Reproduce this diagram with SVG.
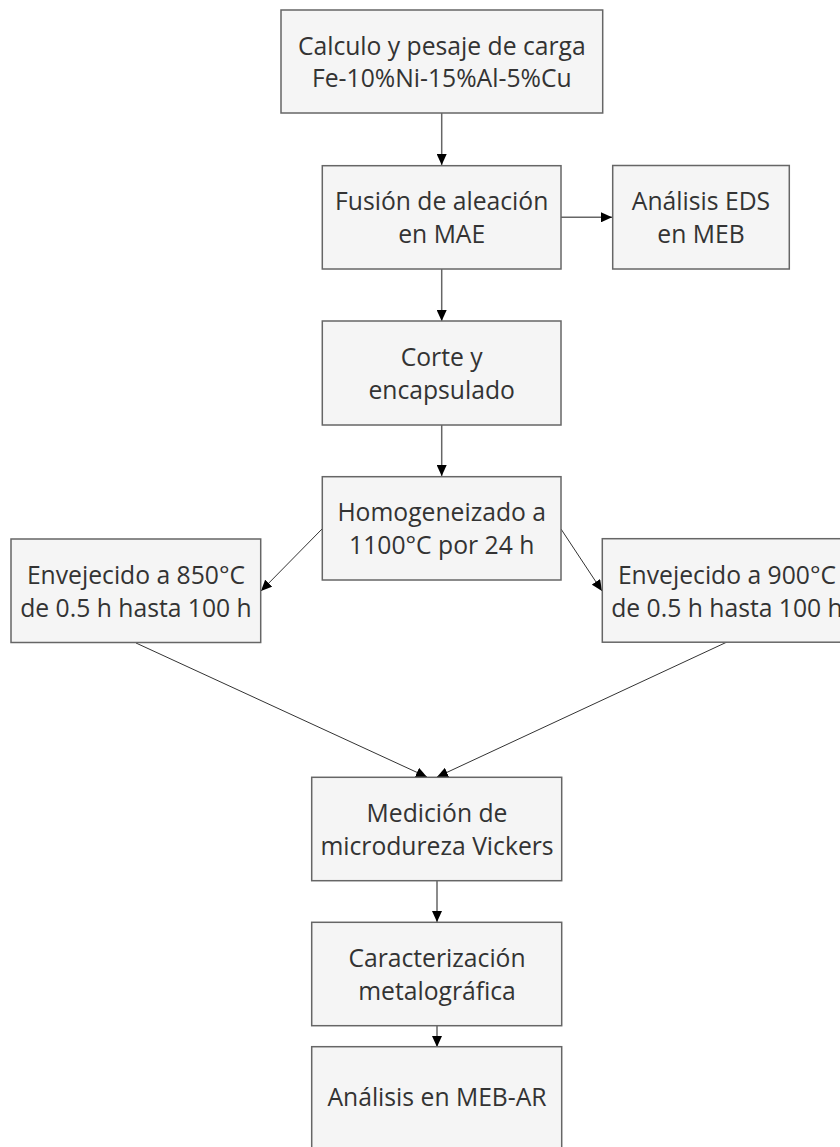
<svg xmlns="http://www.w3.org/2000/svg" width="840" height="1147" viewBox="0 0 840 1147">
<style>
.box{fill:#f5f5f5;stroke:#666666;stroke-width:1.5}
.t{font-family:"Open Sans","Liberation Sans",sans-serif;font-size:24.7px;fill:#333333;text-anchor:middle}
.c{stroke:#666666;stroke-width:1.5;fill:none}
.d{stroke:#333333;stroke-width:1;fill:none}
</style>
<defs>
<marker id="ah" markerUnits="userSpaceOnUse" markerWidth="12" markerHeight="10" refX="11" refY="5" orient="auto" viewBox="0 0 12 10">
<path d="M0,0 L11,5 L0,10 Z" fill="#000000"/>
</marker>
</defs>
<rect width="840" height="1147" fill="#ffffff"/>
<g id="connectors">
<line class="c" x1="441.7" y1="113" x2="441.7" y2="165" marker-end="url(#ah)"/>
<line class="c" x1="561" y1="217.3" x2="612" y2="217.3" marker-end="url(#ah)"/>
<line class="c" x1="441.7" y1="269" x2="441.7" y2="321" marker-end="url(#ah)"/>
<line class="c" x1="441.7" y1="425" x2="441.7" y2="476" marker-end="url(#ah)"/>
<line class="d" x1="322" y1="529" x2="261" y2="591" marker-end="url(#ah)"/>
<line class="d" x1="561" y1="529" x2="602" y2="591" marker-end="url(#ah)"/>
<line class="d" x1="136" y1="643" x2="427" y2="777" marker-end="url(#ah)"/>
<line class="d" x1="727" y1="642" x2="437" y2="777" marker-end="url(#ah)"/>
<line class="c" x1="437" y1="881" x2="437" y2="922" marker-end="url(#ah)"/>
<line class="c" x1="437" y1="1026" x2="437" y2="1047" marker-end="url(#ah)"/>
</g>
<g id="n1"><rect class="box" x="281" y="10" width="321.7" height="103"/>
<text class="t" x="441.8" y="54.5">Calculo y pesaje de carga</text>
<text class="t" x="441.8" y="87">Fe-10%Ni-15%Al-5%Cu</text></g>
<g id="n2"><rect class="box" x="322.3" y="165.7" width="238.7" height="103.3"/>
<text class="t" x="441.7" y="210.3">Fusión de aleación</text>
<text class="t" x="441.7" y="242.8">en MAE</text></g>
<g id="n3"><rect class="box" x="612.7" y="165.5" width="176.6" height="103.5"/>
<text class="t" x="701" y="210.3">Análisis EDS</text>
<text class="t" x="701" y="242.8">en MEB</text></g>
<g id="n4"><rect class="box" x="322.3" y="321" width="238.7" height="104"/>
<text class="t" x="441.7" y="366">Corte y</text>
<text class="t" x="441.7" y="398.5">encapsulado</text></g>
<g id="n5"><rect class="box" x="322.3" y="476.7" width="238.7" height="103.3"/>
<text class="t" x="441.7" y="521.3">Homogeneizado a</text>
<text class="t" x="441.7" y="553.8">1100°C por 24 h</text></g>
<g id="n6"><rect class="box" x="11" y="539" width="249.7" height="103.5"/>
<text class="t" x="136" y="584">Envejecido a 850°C</text>
<text class="t" x="136" y="616.5">de 0.5 h hasta 100 h</text></g>
<g id="n7"><rect class="box" x="602.3" y="538.7" width="249.7" height="103.5"/>
<text class="t" x="727" y="584">Envejecido a 900°C</text>
<text class="t" x="727" y="616.5">de 0.5 h hasta 100 h</text></g>
<g id="n8"><rect class="box" x="311.7" y="777.3" width="250" height="103.4"/>
<text class="t" x="437" y="822">Medición de</text>
<text class="t" x="437" y="854.5">microdureza Vickers</text></g>
<g id="n9"><rect class="box" x="311.7" y="922.3" width="250" height="103.4"/>
<text class="t" x="437" y="967">Caracterización</text>
<text class="t" x="437" y="999.5">metalográfica</text></g>
<g id="n10"><rect class="box" x="311.7" y="1046.7" width="250" height="103.4"/>
<text class="t" x="437" y="1106">Análisis en MEB-AR</text></g>
</svg>
